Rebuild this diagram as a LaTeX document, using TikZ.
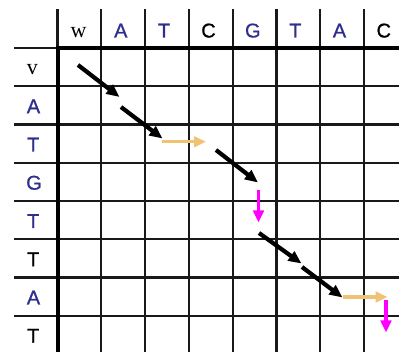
\documentclass[tikz,border=0pt]{standalone}
\usepackage{fontspec}
\setmainfont{Liberation Sans}[FakeBold=1]
\newfontfamily\seriffam{Liberation Serif}
\usetikzlibrary{arrows.meta}
\definecolor{seqblue}{RGB}{46,46,140}
\definecolor{gapgold}{RGB}{240,194,115}
\definecolor{gapmag}{RGB}{255,0,255}
\definecolor{gridink}{RGB}{25,25,25}
\begin{document}
\begin{tikzpicture}[x=1pt,y=-1pt,
  thin grid/.style={draw=gridink,line width=2.2pt},
  heavy grid/.style={draw=black,line width=4.8pt,line join=miter},
  letter/.style={anchor=base,inner sep=0pt,font=\fontsize{20}{20}\selectfont},
  blueletter/.style={letter,text=seqblue},
  seqname/.style={anchor=base,inner sep=0pt,font=\seriffam\fontsize{22}{22}\selectfont},
  diag/.style={draw=black,line width=4.2pt,-{Triangle[length=13pt,width=11pt]}},
  horiz/.style={draw=gapgold,line width=3.2pt,-{Triangle[length=12pt,width=10.5pt]}},
  vert/.style={draw=gapmag,line width=3.2pt,-{Triangle[length=12pt,width=10.5pt]}}]
\useasboundingbox (0,0) rectangle (399,352);

% thin grid lines
\foreach \k in {1,...,7}{
  \draw[thin grid] ({57.5+43.8*\k},9) -- ({57.5+43.8*\k},352);
  \draw[thin grid] (14,{48+38.25*\k}) -- (399,{48+38.25*\k});
}
\draw[thin grid] (57.5,9) -- (57.5,48);
\draw[thin grid] (14,48) -- (57.5,48);
% heavy border of the matrix
\draw[heavy grid] (58,352) -- (58,48) -- (399,48);

% column labels (sequence w)
\node[seqname]    (h0) at (78.5,37.5) {w};
\node[blueletter] (h1) at (120.8,37.5) {A};
\node[blueletter] (h2) at (164,37.5) {T};
\node[letter]     (h3) at (208.5,37.5) {C};
\node[blueletter] (h4) at (252.8,37.5) {G};
\node[blueletter] (h5) at (295.3,37.5) {T};
\node[blueletter] (h6) at (339.5,37.5) {A};
\node[letter]     (h7) at (383.8,37.5) {C};

% row labels (sequence v)
\node[seqname]    (r0) at (32.5,75) {v};
\node[blueletter] (r1) at (33.5,113.2) {A};
\node[blueletter] (r2) at (33.2,151.5) {T};
\node[blueletter] (r3) at (34,189.7) {G};
\node[blueletter] (r4) at (33.2,228) {T};
\node[letter]     (r5) at (33.2,266.2) {T};
\node[blueletter] (r6) at (33.5,304.5) {A};
\node[letter]     (r7) at (33.2,342.7) {T};

% alignment path
\coordinate (a1) at (78,65);    \coordinate (b1) at (119.5,97);
\coordinate (a2) at (121,107);  \coordinate (b2) at (162.5,138.5);
\coordinate (a3) at (162,141.8);\coordinate (b3) at (206,141.8);
\coordinate (a4) at (216,150);  \coordinate (b4) at (258,182.5);
\coordinate (a5) at (258.5,190);\coordinate (b5) at (258.5,222.5);
\coordinate (a6) at (259,233);  \coordinate (b6) at (301.5,263.5);
\coordinate (a7) at (302,267);  \coordinate (b7) at (342.5,297.5);
\coordinate (a8) at (343,297);  \coordinate (b8) at (387.5,297);
\coordinate (a9) at (386,300);  \coordinate (b9) at (386,332.5);

\draw[diag]  (a1) -- (b1);
\draw[diag]  (a2) -- (b2);
\draw[horiz] (a3) -- (b3);
\draw[diag]  (a4) -- (b4);
\draw[vert]  (a5) -- (b5);
\draw[diag]  (a6) -- (b6);
\draw[diag]  (a7) -- (b7);
\draw[horiz] (a8) -- (b8);
\draw[vert]  (a9) -- (b9);
\end{tikzpicture}
\end{document}
